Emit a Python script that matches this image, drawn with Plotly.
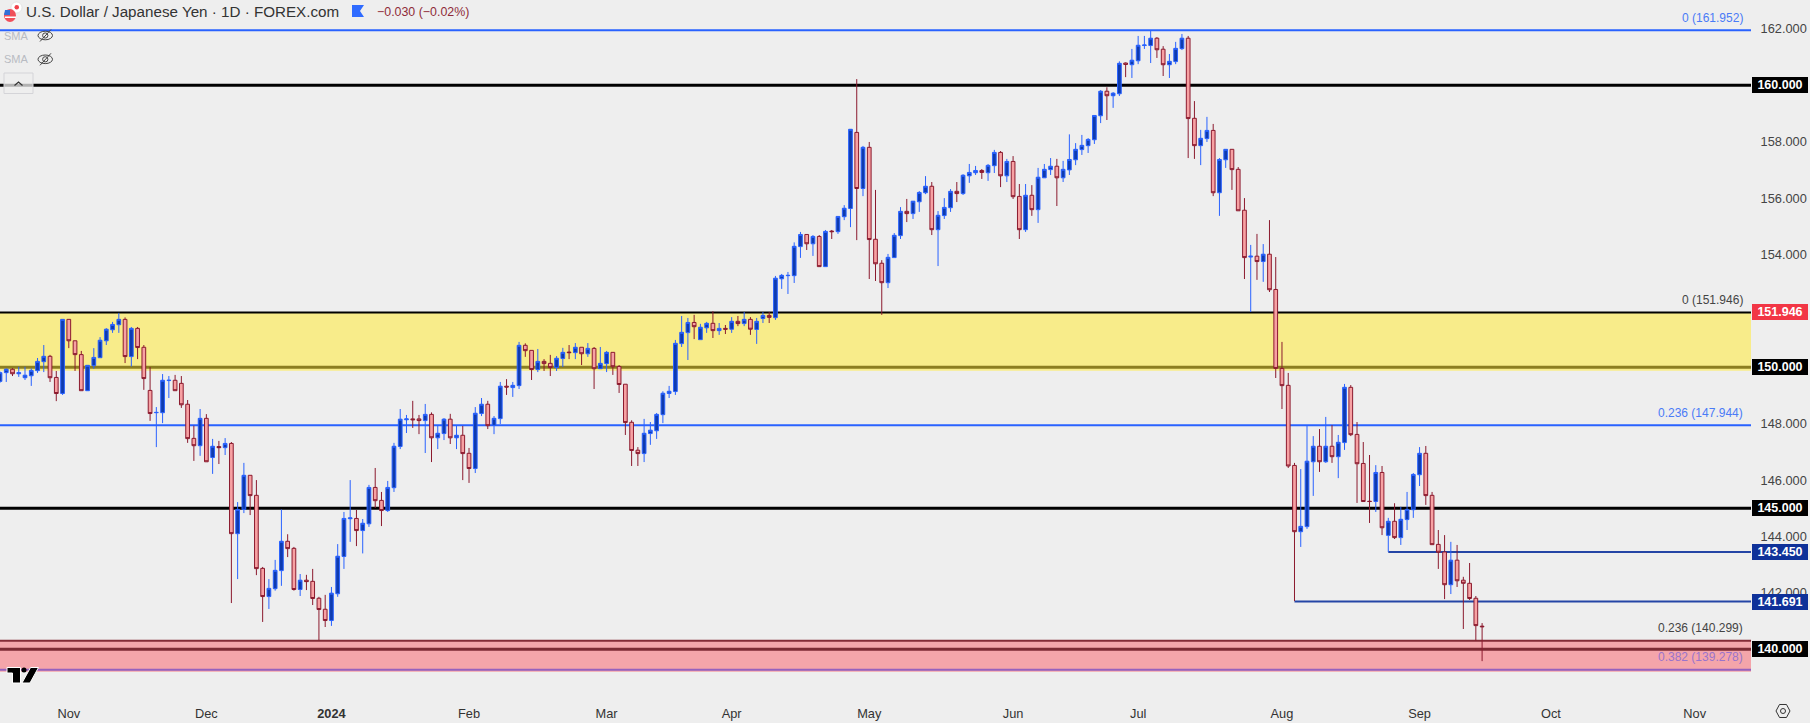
import plotly.graph_objects as go

opens = [149.50,149.81,149.93,149.77,149.63,149.70,149.88,150.20,150.39,149.64,
149.07,151.70,150.94,150.45,149.17,150.06,150.34,150.94,151.33,151.51,
151.70,150.38,151.38,150.71,149.18,148.39,148.39,149.53,149.54,149.43,
148.69,147.48,147.22,148.19,146.80,147.19,147.15,147.30,144.10,144.96,
146.17,145.46,142.87,141.87,142.15,142.79,143.83,143.58,142.12,142.45,
142.41,141.81,141.42,141.02,141.97,143.29,144.63,144.64,144.21,144.45,
145.74,145.28,144.92,145.73,147.19,148.14,148.17,148.17,148.11,148.33,
147.50,147.65,148.16,147.50,147.59,146.95,146.41,148.36,148.69,147.94,
148.18,149.33,149.28,149.35,150.78,150.60,149.92,150.21,150.14,149.99,
150.31,150.54,150.52,150.71,150.48,150.67,149.95,150.13,150.53,150.03,
149.40,148.05,147.06,146.94,147.65,147.75,148.32,149.07,149.14,150.84,
151.23,151.59,150.98,151.40,151.56,151.30,151.38,151.35,151.63,151.55,
151.70,151.34,151.73,151.84,151.76,153.14,153.25,153.25,154.28,154.71,
154.38,154.64,153.57,154.83,154.81,155.34,155.63,158.33,156.34,157.80,
154.54,153.69,153.00,153.89,154.67,155.53,155.45,155.87,156.19,156.42,
154.88,155.38,155.66,156.24,156.16,156.79,156.90,156.98,156.90,157.15,
157.62,156.79,157.30,156.06,154.88,156.10,155.59,156.72,157.01,157.13,
156.72,157.00,157.36,157.72,157.86,158.07,158.92,159.79,159.63,159.70,
160.79,160.73,160.87,161.41,161.41,161.67,161.28,160.73,160.84,161.30,
161.67,158.83,157.86,158.11,158.40,156.19,157.36,157.73,157.02,155.57,
153.91,153.94,153.75,154.01,152.76,149.96,149.36,146.52,144.17,144.35,
146.65,147.20,146.65,147.20,146.83,147.33,149.29,147.62,146.59,145.25,
145.24,146.27,144.04,144.54,143.96,144.60,144.95,146.19,146.95,145.46,
143.72,143.45,142.29,143.16,142.45,142.34,141.81,140.82]

closes = [149.81,149.93,149.77,149.81,149.72,149.89,150.21,150.39,149.63,149.07,
151.70,150.94,150.45,149.17,150.07,150.35,150.96,151.35,151.52,151.70,
150.38,151.38,150.70,149.60,148.36,148.40,149.54,149.54,149.17,148.67,
147.47,147.22,148.19,146.65,147.20,147.15,147.30,144.10,144.96,146.17,
145.45,142.86,141.87,142.16,142.80,143.83,143.57,142.12,142.45,142.40,
141.80,141.41,141.02,141.99,143.30,144.64,144.66,144.21,144.47,145.74,
145.27,144.92,145.74,147.20,148.16,148.17,148.14,148.11,148.33,147.50,
147.66,148.16,147.50,147.59,146.94,146.41,148.37,148.69,147.93,148.19,
149.33,149.30,149.36,150.78,150.59,149.92,150.21,150.13,149.99,150.32,
150.53,150.52,150.71,150.48,150.67,149.95,150.14,150.53,150.02,149.39,
148.04,147.05,146.94,147.66,147.77,148.33,149.08,149.15,150.85,151.24,
151.59,151.44,151.42,151.56,151.30,151.38,151.35,151.63,151.55,151.70,
151.35,151.63,151.84,151.77,153.16,153.26,153.26,154.29,154.71,154.38,
154.64,153.57,154.82,154.81,155.35,155.64,158.44,156.34,157.80,154.53,
153.67,153.00,153.90,154.68,155.53,155.45,155.89,156.20,156.42,154.88,
155.39,155.67,156.24,156.16,156.81,156.91,156.98,156.91,157.16,157.62,
156.79,157.30,156.05,154.88,156.10,155.59,156.74,157.02,157.13,156.72,
157.02,157.37,157.73,157.87,158.08,158.93,159.79,159.63,159.72,160.78,
160.74,160.89,161.42,161.43,161.67,161.26,160.73,160.85,161.31,161.67,
158.82,157.86,158.12,158.40,156.19,157.37,157.73,157.01,155.55,153.89,
153.94,153.75,154.01,152.75,149.96,149.35,146.50,144.17,144.36,146.67,
147.20,146.65,147.20,146.83,147.34,149.29,147.61,146.58,145.24,145.24,
146.27,144.31,144.54,143.96,144.61,144.96,146.20,146.95,145.45,143.71,
143.44,142.29,143.16,142.43,142.34,141.80,140.84,140.80]

highs = [149.85,149.96,149.97,150.02,150.02,149.96,150.33,150.79,150.44,149.87,
151.70,151.70,150.94,150.58,150.07,150.68,151.07,151.39,151.61,151.93,
151.77,151.43,151.43,150.79,150.01,148.59,149.76,149.69,149.73,149.69,
148.84,147.93,148.52,148.34,147.46,147.39,147.49,147.35,145.22,146.61,
146.17,146.00,142.92,142.49,143.17,144.96,144.08,143.63,142.67,142.64,
142.85,141.86,141.93,142.21,143.73,144.87,146.00,144.94,144.62,145.83,
146.43,145.58,145.97,147.32,148.52,148.31,148.81,148.31,148.70,148.40,
147.92,148.20,148.35,147.92,147.92,147.14,148.59,148.91,148.81,148.27,
149.48,149.58,149.48,150.90,150.85,150.60,150.65,150.29,150.44,150.40,
150.69,150.79,150.86,150.71,150.86,150.72,150.72,150.58,150.53,150.08,
149.40,148.12,147.17,148.17,148.06,148.38,149.15,149.34,150.97,151.82,
151.75,151.86,151.54,151.61,151.99,151.57,151.50,151.78,151.82,151.96,
151.78,151.75,151.96,151.96,153.24,153.31,153.38,154.43,154.80,154.71,
154.69,154.69,154.87,154.87,155.35,155.75,158.44,160.22,157.85,157.99,
156.29,153.80,154.02,154.76,155.68,155.97,155.89,156.25,156.78,156.57,
155.54,156.00,156.32,156.57,156.85,157.21,157.14,157.03,157.21,157.71,
157.67,157.39,157.49,156.50,156.50,156.46,157.07,157.21,157.42,157.39,
157.32,158.26,157.95,158.24,158.13,158.93,159.83,159.93,159.76,160.85,
160.81,161.29,161.75,161.75,161.95,161.71,161.39,161.11,161.54,161.82,
161.75,159.44,158.42,158.88,158.63,157.42,157.73,157.73,157.10,156.00,
154.34,154.73,154.37,155.22,153.91,150.90,149.80,146.61,146.39,147.94,
147.56,147.81,148.24,147.95,147.60,149.41,149.37,148.06,147.35,146.89,
146.53,146.50,144.66,145.18,145.05,145.58,146.25,147.17,147.21,145.58,
144.23,144.05,143.81,143.70,142.57,143.06,141.89,140.93]

lows = [149.45,149.48,149.69,149.66,149.55,149.34,149.80,149.83,149.48,148.80,
149.02,150.68,149.87,149.17,149.17,149.95,150.34,150.79,151.22,151.22,
150.15,150.03,150.29,149.20,148.10,147.17,148.02,148.91,149.17,148.56,
147.32,146.68,146.86,146.65,146.22,146.57,146.89,141.64,142.49,144.83,
144.76,142.63,140.97,141.43,142.08,142.25,143.27,142.08,141.89,142.10,
141.57,140.32,140.79,140.83,141.86,142.85,143.81,143.66,143.40,144.34,
145.01,144.37,144.87,145.58,147.10,147.67,147.85,147.63,146.96,146.64,
147.10,147.42,147.28,147.10,146.00,145.90,146.25,148.27,147.81,147.63,
147.99,149.02,148.95,149.23,150.37,149.55,149.83,149.87,149.69,149.87,
150.01,150.29,150.29,150.08,150.37,149.23,149.95,149.83,149.73,149.09,
147.60,146.50,146.50,146.64,147.25,147.46,148.02,148.91,149.02,150.72,
150.26,151.00,150.98,151.22,151.04,151.15,151.18,151.22,151.46,151.46,
151.15,150.83,151.57,151.57,151.68,152.78,152.60,152.99,153.88,154.16,
153.95,153.57,153.57,154.55,154.73,155.22,154.97,154.51,156.07,153.13,
153.06,151.86,152.81,153.89,154.55,155.15,155.26,155.51,156.14,154.69,
153.59,155.26,155.51,155.86,156.11,156.54,156.82,156.68,156.61,156.89,
156.39,156.57,155.97,154.55,154.80,155.37,155.12,156.72,156.82,155.72,
156.57,156.82,157.17,157.53,157.60,157.92,158.66,158.77,159.20,159.62,
160.29,160.26,160.75,161.29,160.79,160.97,160.33,160.26,160.75,161.25,
157.42,157.39,157.17,157.99,156.07,155.37,157.07,156.29,155.55,153.13,
151.96,153.10,153.03,152.67,149.62,148.52,146.43,141.71,143.63,144.27,
145.44,146.29,146.61,146.61,146.07,147.07,147.56,145.19,145.24,144.48,
144.87,144.05,143.45,143.91,143.70,144.23,144.66,145.79,145.12,143.71,
142.85,141.78,141.96,142.21,140.72,141.75,140.30,139.58]

month_bars = [11, 33, 53, 75, 97, 117, 139, 162, 182, 205, 227, 248, 271]
month_labels = ["Nov", "Dec", "<b>2024</b>", "Feb", "Mar", "Apr", "May", "Jun", "Jul", "Aug", "Sep", "Oct", "Nov"]
price_ticks = [142, 144, 146, 148, 154, 156, 158, 162]

black_levels = [160.0, 145.0]
fib_blue_levels = [161.952, 147.944]
yellow_zone = [149.88, 151.946]
red_zone = [139.2, 140.299]
ray_levels = [143.45, 141.691]
ray_starts = [222, 207]

fib_labels = ["0 (161.952)", "0 (151.946)", "0.236 (147.944)", "0.236 (140.299)", "0.382 (139.278)"]
fib_values = [161.952, 151.946, 147.944, 140.299, 139.278]
fib_colors = ["#4A7BF7", "#444444", "#4A7BF7", "#444444", "#9A74CC"]

tag_values = [160.0, 151.946, 150.0, 145.0, 143.45, 141.691, 140.0]
tag_colors = ["#000000", "#F23645", "#000000", "#000000", "#0F3199", "#0F3199", "#000000"]

W, H = 1751.0, 693.0
X_END = 280
def px(x): return x / W
def py(y): return 1 - y / H
def poly(pts):
    return "M" + " L".join(f"{px(a):.5f},{py(b):.5f}" for a, b in pts) + " Z"

shapes = []
def hline(y, color, width, x0=0, xref="paper", x1=1):
    shapes.append(dict(type="line", xref=xref, yref="y", x0=x0, x1=x1, y0=y, y1=y,
                       line=dict(color=color, width=width), layer="below"))

# zones
shapes.append(dict(type="rect", xref="paper", yref="y", x0=0, x1=1, y0=yellow_zone[0], y1=yellow_zone[1],
                   fillcolor="#F8EC8A", line_width=0, layer="below"))
shapes.append(dict(type="rect", xref="paper", yref="y", x0=0, x1=1, y0=red_zone[0], y1=red_zone[1],
                   fillcolor="#F4A5AA", line_width=0, layer="below"))
for lv in black_levels:
    hline(lv, "#000000", 3)
for lv in fib_blue_levels:
    hline(lv, "#2962FF", 2)
hline(151.946, "#000000", 2)
hline(150.0, "#8C7E20", 3)
hline(140.0, "#7D2A33", 3)
hline(140.299, "#842A35", 2)
hline(139.278, "#9561BE", 2)
for lv, st in zip(ray_levels, ray_starts):
    hline(lv, "#2445A5", 2, x0=st, xref="x", x1=X_END)

def deco(**k):
    k.setdefault("xref", "paper"); k.setdefault("yref", "paper"); k.setdefault("layer", "above")
    shapes.append(k)

# header flag marker
deco(type="path", path=poly([(352, 5), (364, 5), (360, 11), (364, 17), (352, 17)]), fillcolor="#2F6BFF", line_width=0)
# symbol icon
deco(type="circle", x0=px(11), x1=px(22), y0=py(13), y1=py(2), fillcolor="#FFFFFF", line=dict(color="#D9D9D9", width=0.6))
deco(type="circle", x0=px(14.5), x1=px(19), y0=py(9.5), y1=py(5), fillcolor="#F0404A", line_width=0)
deco(type="circle", x0=px(4), x1=px(16), y0=py(22), y1=py(9), fillcolor="#F0505A", line_width=0)
deco(type="path", path=poly([(5, 10), (10, 10), (10, 15), (4, 15)]), fillcolor="#2F6FD8", line_width=0)
deco(type="path", path=poly([(5, 16.5), (16, 16.5), (16, 18), (5, 18)]), fillcolor="#FFFFFF", line_width=0)
# SMA eye icons
for cy in (35.5, 59.3):
    deco(type="circle", x0=px(38), x1=px(52.5), y0=py(cy + 4.3), y1=py(cy - 4.3), fillcolor="rgba(0,0,0,0)",
         line=dict(color="#444444", width=1))
    deco(type="circle", x0=px(42.6), x1=px(47.9), y0=py(cy + 2.6), y1=py(cy - 2.6), fillcolor="rgba(0,0,0,0)",
         line=dict(color="#444444", width=1))
    deco(type="line", x0=px(40), x1=px(51), y0=py(cy + 6), y1=py(cy - 6), line=dict(color="#444444", width=1))
# collapse button
deco(type="rect", x0=px(4), x1=px(33), y0=py(93.5), y1=py(73), fillcolor="rgba(238,238,238,0.75)",
     line=dict(color="#D4D4D8", width=1))
deco(type="path", path="M" + f"{px(14.5):.5f},{py(85.5):.5f} L{px(18.5):.5f},{py(82):.5f} L{px(22.5):.5f},{py(85.5):.5f}",
     line=dict(color="#333333", width=1.2))
# TradingView mark
deco(type="path", path=poly([(7, 667.5), (20.5, 667.5), (20.5, 683), (12.5, 683), (12.5, 673), (7, 673)]),
     fillcolor="#000000", line=dict(color="#FFFFFF", width=1))
deco(type="circle", x0=px(21.5), x1=px(26.5), y0=py(672.5), y1=py(667.5), fillcolor="#000000", line_width=0)
deco(type="path", path=poly([(30.5, 667.5), (38.5, 667.5), (30, 683), (22, 683)]), fillcolor="#000000",
     line=dict(color="#FFFFFF", width=1))
# settings hexagon
deco(type="path", path=poly([(1776, 711), (1779.5, 704.5), (1786.5, 704.5), (1790, 711), (1786.5, 717.5), (1779.5, 717.5)]),
     fillcolor="rgba(0,0,0,0)", line=dict(color="#333333", width=1))
deco(type="circle", x0=px(1780.5), x1=px(1785.5), y0=py(713.5), y1=py(708.5), fillcolor="rgba(0,0,0,0)",
     line=dict(color="#333333", width=1))

annotations = []
FONT = "Liberation Sans"
def text_at(x, y, text, size, color, anchor="left"):
    annotations.append(dict(xref="paper", yref="paper", x=px(x), y=py(y), text=text, showarrow=False,
                            xanchor=anchor, yanchor="middle", font=dict(family=FONT, size=size, color=color),
                            borderpad=0, borderwidth=0))

text_at(26, 11.7, "U.S. Dollar / Japanese Yen · 1D · FOREX.com", 15.2, "#333333")
text_at(377, 11.7, "−0.030 (−0.02%)", 12.4, "#8E2B38")
text_at(4, 35.7, "SMA", 11, "#B8BBC2")
text_at(4, 59.3, "SMA", 11, "#B8BBC2")

for t, v, c in zip(fib_labels, fib_values, fib_colors):
    annotations.append(dict(xref="paper", yref="y", x=1742.8 / W, y=v, text=t, showarrow=False, xanchor="right",
                            yanchor="bottom", yshift=5.5, font=dict(family=FONT, size=12, color=c),
                            borderpad=0, borderwidth=0))
for v, c in zip(tag_values, tag_colors):
    annotations.append(dict(xref="paper", yref="y", x=1752 / W, y=v, text=f"<b>{v:.3f}</b>", showarrow=False,
                            xanchor="left", yanchor="middle", width=56, height=16, align="center", bgcolor=c,
                            font=dict(family=FONT, size=12.5, color="#FFFFFF"), borderpad=0, borderwidth=0))

fig = go.Figure(go.Candlestick(
    x=list(range(len(opens))), open=opens, high=highs, low=lows, close=closes,
    increasing=dict(line=dict(color="#2962FF", width=1), fillcolor="#0F3BAE"),
    decreasing=dict(line=dict(color="#8B1A2E", width=1), fillcolor="#F7A1A3"),
    whiskerwidth=0, showlegend=False,
))
fig.update_layout(
    width=1810, height=723, margin=dict(l=0, r=59, t=0, b=30),
    paper_bgcolor="#EEEEEE", plot_bgcolor="#EEEEEE",
    boxgap=0.15,
    shapes=shapes, annotations=annotations, showlegend=False,
    xaxis=dict(range=[0, X_END], rangeslider=dict(visible=False), showgrid=False, zeroline=False, showline=False,
               tickmode="array", tickvals=month_bars, ticktext=month_labels, ticks="outside", ticklen=9,
               tickcolor="rgba(0,0,0,0)", tickfont=dict(family=FONT, size=12.8, color="#333333")),
    yaxis=dict(range=[138.45, 163.025], side="right", showgrid=False, zeroline=False, showline=False,
               tickmode="array", tickvals=price_ticks, tickformat=".3f", ticks="outside", ticklen=6,
               tickcolor="rgba(0,0,0,0)", tickfont=dict(family=FONT, size=12.8, color="#444444")),
)
fig.write_html("out.html", config=dict(displayModeBar=False),
               post_script="document.body.style.margin='0';document.body.style.background='#EEEEEE';")
